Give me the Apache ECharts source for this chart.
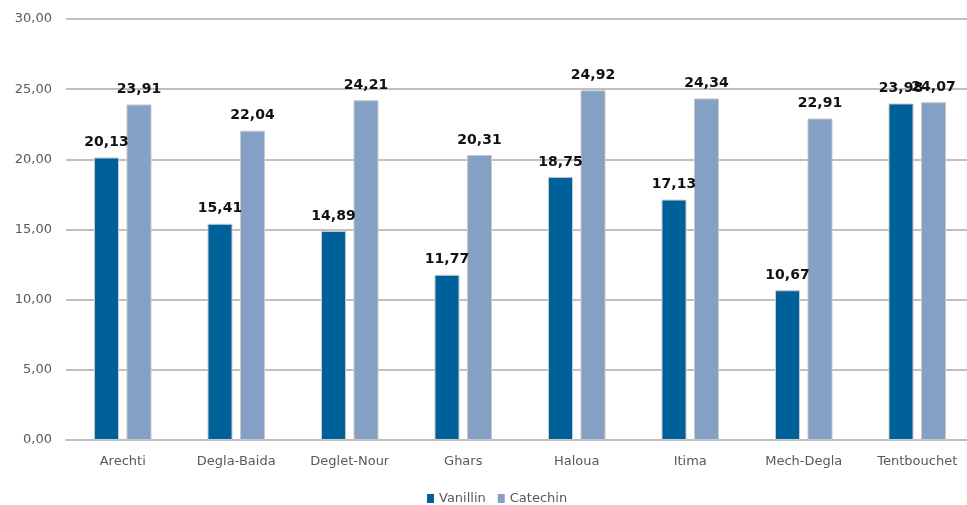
<!DOCTYPE html>
<html><head><meta charset="utf-8">
<script src="https://cdn.jsdelivr.net/npm/echarts@6/dist/echarts.min.js"></script>
<style>html,body{margin:0;padding:0;background:#fff;overflow:hidden}#c{width:974px;height:505px}</style>
</head><body><div id="c"></div>
<script>
var categories = ['Arechti','Degla-Baida','Deglet-Nour','Ghars','Haloua','Itima','Mech-Degla','Tentbouchet'];
var vanillin = [20.13,15.41,14.89,11.77,18.75,17.13,10.67,23.98];
var catechin = [23.91,22.04,24.21,20.31,24.92,24.34,22.91,24.07];
var seriesNames = ['Vanillin','Catechin'];
var fmt = function(v){return v.toFixed(2).replace('.',',');};
var chart = echarts.init(document.getElementById('c'));
var lbl = {show:true,position:'top',distance:8,color:'#111',fontWeight:'bold',fontSize:14,fontFamily:'DejaVu Sans',formatter:function(p){return fmt(p.value);}};
chart.setOption({
  animation:false,
  grid:{left:66,right:0,top:19,bottom:65},
  legend:{top:487,left:422,itemWidth:7,itemHeight:9,itemGap:12,icon:'rect',
    itemStyle:{borderWidth:0},
    textStyle:{color:'#595959',fontSize:13,fontFamily:'DejaVu Sans'},data:seriesNames},
  xAxis:{type:'category',data:categories,
    axisLine:{lineStyle:{color:'#bfbfbf',width:2}},axisTick:{show:false},
    axisLabel:{color:'#595959',fontSize:13,fontFamily:'DejaVu Sans',margin:15}},
  yAxis:{type:'value',min:0,max:30,interval:5,
    axisLine:{show:false},axisTick:{show:false},
    splitLine:{lineStyle:{color:'#c0c0c0',width:2}},
    axisLabel:{color:'#595959',fontSize:13,fontFamily:'DejaVu Sans',margin:14,formatter:function(v){return fmt(v);}}},
  series:[
    {name:seriesNames[0],type:'bar',data:vanillin,barWidth:25,barGap:'30%',
     itemStyle:{color:'#00609a',borderColor:'#c8c8c8',borderWidth:1},label:lbl},
    {name:seriesNames[1],type:'bar',data:catechin,barWidth:25,
     itemStyle:{color:'#84a0c4',borderColor:'#c8c8c8',borderWidth:1},label:lbl}
  ]
});
</script></body></html>
